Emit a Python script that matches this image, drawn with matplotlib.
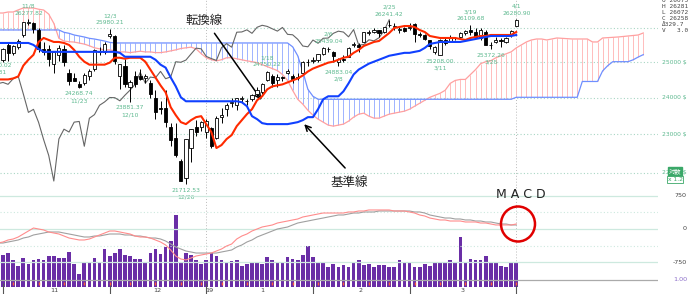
import numpy as np
import matplotlib.pyplot as plt
from matplotlib.patches import Ellipse

plt.rcParams['font.family'] = ['DejaVu Sans', 'Noto Sans CJK JP']

# day index: -1 = 2018/10/31, 0 = 11/1 ... 101 = 2019/4/1
opens = [25150, 25070, 25500, 25260, 25450, 25800, 26150, 26150, 25960, 25400,
         25400, 24950, 25200, 25400, 24700, 24550, 24380, 24400, 24600, 24800,
         25300, 25300, 25780, 25780, 24600, 24900, 24300, 24600, 24600, 24550,
         24400, 24000, 23700, 23700, 23200, 22900, 22300, 21860, 22630, 23200,
         23200, 23060, 23180, 22900, 23470, 23680, 23860, 23800, 23950, 23900,
         23950, 24100, 24150, 24500, 24600, 24500, 24580, 24700, 24600, 24560,
         24700, 25000, 25025, 25060, 25250, 25400, 25300, 25000, 25100, 25150,
         25500, 25500, 25600, 25850, 25900, 25950, 25900, 26100, 26050, 25950,
         26000, 26020, 26120, 25840, 25800, 25650, 25300, 25210, 25650, 25600,
         25700, 25750, 25850, 25950, 25900, 25700, 25900, 25500, 25600, 25650,
         25600, 25800, 26075]
highs = [25300, 25420, 25600, 25500, 25680, 26200, 26277.82, 26200, 26000, 25600,
         25500, 25300, 25500, 25500, 24800, 24700, 24450, 24700, 24800, 25400,
         25450, 25600, 25980.21, 25800, 24950, 25100, 24500, 24750, 24800, 24650,
         24500, 24200, 23900, 24200, 23300, 23300, 22350, 22880, 23140, 23380,
         23360, 23400, 23200, 23500, 23700, 23860, 24000, 24000, 24030, 23950,
         24100, 24300, 24400, 24750.22, 24650, 24650, 24600, 24800, 24650, 24700,
         25050, 25100, 25150, 25250, 25430, 25439.04, 25320, 25120, 25200, 25430,
         25600, 25550, 25900, 25950, 26000, 25960, 26050, 26241.42, 26150, 26050,
         26050, 26150, 26150, 25900, 25820, 25660, 25460, 25670, 25700, 25800,
         25750, 25900, 25950, 26109.68, 26000, 26000, 25950, 25600, 25750, 25700,
         25750, 25950, 26280.90]
lows = [25090.02, 25000, 25050, 25200, 25400, 25750, 26100, 25850, 25300, 25200,
        24900, 24700, 25050, 24900, 24350, 24450, 24268.74, 24350, 24500, 24750,
        25200, 25250, 25700, 24950, 24242, 24300, 23881.37, 24300, 24500, 24400,
        24000, 23400, 23550, 23200, 22700, 22400, 21790, 21712.53, 22270, 22950,
        23100, 22900, 22650, 22880, 23300, 23500, 23750, 23650, 23850, 23800,
        23900, 24050, 24100, 24450, 24300, 24300, 24450, 24650, 24400, 24500,
        24650, 24900, 24980, 25000, 25220, 25300, 25000, 24883.04, 25000, 25150,
        25450, 25300, 25600, 25800, 25850, 25750, 25850, 26050, 25950, 25850,
        25900, 25950, 25600, 25750, 25650, 25400, 25250, 25208.00, 25500, 25580,
        25650, 25700, 25800, 25800, 25700, 25650, 25500, 25372.26, 25550, 25450,
        25550, 25750, 26072]
closes = [25116, 25380, 25270, 25461, 25635, 26180, 26191, 25989, 25387, 25286,
          25080, 25289, 25413, 25017, 24465, 24464, 24285, 24640, 24748, 25366,
          25338, 25538, 25826, 25027, 24947, 24389, 24423, 24370, 24527, 24597,
          24100, 23592, 23675, 23323, 22859, 22445, 21792, 22878, 23138, 23062,
          23327, 23346, 22686, 23433, 23531, 23787, 23879, 24001, 23996, 23910,
          24065, 24207, 24370, 24706, 24404, 24575, 24553, 24737, 24528, 24579,
          25014, 24999, 25063, 25239, 25411, 25390, 25169, 25106, 25053, 25425,
          25543, 25439, 25883, 25891, 25954, 25850, 26031, 26091, 26057, 25985,
          25916, 26026, 25819, 25806, 25673, 25473, 25450, 25650, 25554, 25702,
          25709, 25849, 25914, 25887, 25745, 25962, 25502, 25516, 25657, 25626,
          25717, 25929, 26258]
volume = [4.44, 4.02, 4.27, 3.43, 2.68, 3.60, 2.93, 3.35, 3.51, 3.43,
          3.85, 3.85, 3.60, 3.60, 4.35, 2.93, 1.67, 3.09, 3.09, 3.60,
          3.09, 4.77, 3.85, 4.18, 4.69, 4.02, 3.85, 3.51, 3.51, 3.09,
          4.18, 4.69, 4.10, 4.94, 5.69, 8.79, 3.09, 4.27, 4.02, 3.43,
          2.93, 3.35, 4.27, 3.85, 3.43, 3.18, 3.26, 3.43, 2.68, 2.93,
          3.01, 3.09, 2.93, 3.77, 3.43, 3.18, 3.18, 3.77, 3.51, 3.35,
          4.02, 5.11, 3.77, 3.09, 3.18, 2.59, 2.93, 2.51, 2.76, 2.59,
          3.09, 3.43, 2.84, 2.93, 2.59, 2.76, 2.76, 2.59, 2.59, 3.43,
          3.01, 3.01, 2.59, 2.59, 2.93, 2.68, 3.18, 3.18, 3.18, 3.35,
          3.09, 6.11, 3.09, 3.51, 3.35, 3.43, 3.85, 3.09, 3.09, 2.68,
          2.51, 3.09, 3.01]
tenkan = [24508, 24508, 24508, 24536, 24592, 24903, 25073, 25216, 25593, 25711,
          25652, 25593, 25593, 25563, 25505, 25359, 25159, 25016, 24930, 24930,
          24930, 24930, 24988, 25130, 25130, 25102, 25130, 25130, 25130, 25016,
          24789, 24564, 24340, 24145, 23734, 23516, 23327, 23274, 23381, 23462,
          23489, 23274, 23061, 22639, 22717, 22875, 22981, 23220, 23381, 23543,
          23679, 23925, 24035, 24229, 24312, 24340, 24368, 24424, 24480, 24536,
          24620, 24733, 24817, 24874, 24930, 24988, 25016, 25073, 25130, 25159,
          25273, 25359, 25475, 25534, 25593, 25622, 25740, 25859, 26009, 26039,
          26069, 26069, 26039, 25949, 25889, 25770, 25740, 25711, 25711, 25711,
          25711, 25681, 25652, 25711, 25740, 25770, 25770, 25800, 25800, 25800,
          25800, 25800, 25889]
kijun = [25563, 25563, 25563, 25563, 25563, 25563, 25563, 25505, 25388, 25302,
         25302, 25302, 25302, 25302, 25302, 25302, 25302, 25302, 25302, 25302,
         25302, 25302, 25302, 25302, 25273, 25159, 25159, 25159, 25159, 25159,
         25159, 25073, 24930, 24845, 24564, 24312, 24007, 23897, 23897, 23897,
         23897, 23897, 23897, 23897, 23897, 23897, 23897, 23897, 23870, 23761,
         23489, 23408, 23300, 23274, 23274, 23274, 23274, 23274, 23300, 23327,
         23381, 23462, 23462, 23679, 23952, 24035, 24035, 24035, 24173, 24396,
         24648, 24789, 24874, 24959, 25016, 25073, 25130, 25188, 25216, 25245,
         25273, 25273, 25302, 25331, 25417, 25534, 25563, 25593, 25593, 25593,
         25593, 25593, 25622, 25652, 25681, 25711, 25740, 25770, 25770, 25770,
         25770, 25770, 25800]
# leading spans, as drawn (day -1 .. 126)
span_a = [26464, 26464, 26495, 26495, 26560, 26618, 26618, 26618, 26580, 26556,
          26430, 26150, 25700, 25620, 25600, 25590, 25560, 25530, 25480, 25420,
          25390, 25360, 25360, 25330, 25300, 25300, 25280, 25300, 25320, 25300,
          25300, 25280, 25280, 25300, 25330, 25360, 25400, 25420, 25440, 25390,
          25250, 25130, 25073, 25040, 25073, 25130, 25130, 25100, 25073, 25040,
          25016, 24988, 24930, 24874, 24817, 24760, 24648, 24480, 24200, 23952,
          23816, 23650, 23516, 23408, 23327, 23247, 23220, 23247, 23274, 23354,
          23462, 23543, 23570, 23489, 23435, 23435, 23489, 23543, 23570, 23598,
          23625, 23679, 23761, 23843, 23925, 24007, 24062, 24118, 24200, 24396,
          24480, 24508, 24508, 24648, 24789, 24959, 25016, 25044, 25130, 25188,
          25245, 25302, 25417, 25505, 25593, 25652, 25681, 25681, 25652, 25681,
          25711, 25700, 25690, 25681, 25681, 25681, 25681, 25593, 25593, 25711,
          25720, 25730, 25740, 25755, 25770, 25785, 25800, 25860]
span_b = [25950, 25950, 25950, 25950, 25950, 25950, 25950, 25950, 25950, 25950,
          25950, 25950, 25950, 25880, 25850, 25800, 25770, 25740, 25700, 25680,
          25650, 25620, 25580, 25563, 25563, 25563, 25563, 25563, 25563, 25563,
          25563, 25563, 25563, 25563, 25563, 25563, 25563, 25563, 25563, 25563,
          25563, 25563, 25563, 25563, 25563, 25563, 25563, 25563, 25563, 25563,
          25563, 25563, 25563, 25563, 25563, 25563, 25563, 25563, 25450, 25188,
          24733, 24229, 24035, 23952, 23952, 23952, 23952, 23952, 23952, 23952,
          23952, 23952, 23952, 23952, 23952, 23952, 23952, 23952, 23952, 23952,
          23952, 23952, 23952, 23952, 23952, 23952, 23952, 23952, 23952, 23952,
          23952, 23952, 23952, 23952, 23952, 23952, 23952, 23952, 23952, 23952,
          23952, 23952, 24007, 24007, 24007, 24007, 24007, 24007, 24007, 24007,
          24007, 24007, 24007, 24007, 24007, 24450, 24450, 24450, 24450, 24750,
          24900, 25016, 25016, 25016, 25016, 25070, 25150, 25220]
macd = [-314, -291, -246, -224, -179, -112, -45, 22, 0, -22,
        -67, -90, -112, -157, -202, -224, -246, -246, -224, -179,
        -134, -90, -45, -45, -67, -90, -112, -157, -179, -179,
        -202, -246, -291, -358, -470, -605, -672, -694, -650, -605,
        -582, -560, -538, -493, -448, -381, -336, -224, -157, -112,
        -45, 0, 45, 67, 90, 134, 157, 179, 202, 224,
        269, 291, 314, 336, 358, 358, 358, 358, 358, 381,
        381, 403, 403, 426, 426, 426, 426, 426, 403, 403,
        403, 381, 358, 314, 291, 246, 224, 202, 202, 179,
        179, 179, 157, 157, 157, 134, 134, 112, 90, 90,
        90, 90, 112]
signal = [-314, -314, -291, -269, -246, -202, -179, -134, -112, -90,
          -67, -67, -67, -90, -112, -134, -157, -179, -179, -157,
          -157, -134, -112, -112, -112, -134, -134, -157, -157, -179,
          -202, -202, -224, -269, -336, -403, -448, -493, -515, -538,
          -538, -538, -538, -538, -515, -493, -470, -403, -358, -291,
          -246, -179, -134, -90, -45, 0, 22, 45, 90, 134,
          157, 179, 202, 224, 246, 269, 291, 314, 314, 336,
          358, 358, 381, 381, 381, 403, 403, 403, 403, 403,
          403, 403, 381, 381, 358, 314, 291, 269, 246, 246,
          224, 224, 202, 202, 179, 179, 157, 157, 134, 112,
          112, 90, 90]

high_marks = [(5, '11/8', '26277.82'), (21, '12/3', '25980.21'), (52, '1/18', '24750.22'),
              (64, '2/6', '25439.04'), (76, '2/25', '26241.42'), (92, '3/19', '26109.68'),
              (101, '4/1', '26280.90')]
low_marks = [(-1, '10/31', '25090.02'), (15, '11/23', '24268.74'), (25, '12/10', '23881.37'),
             (36, '12/26', '21712.53'), (66, '2/8', '24883.04'), (86, '3/11', '25208.00'),
             (96, '3/25', '25372.26')]
month_starts = [0, 21, 40, 61, 80, 101]
month_labels = [(10.2, '11'), (30.3, '12'), (40.6, '19'), (51, '1'), (70.3, '2'), (90.4, '3')]
week_starts = [2, 7, 12, 16, 21, 25, 30, 35, 39, 43, 48, 53, 57, 62, 67, 72, 76, 81, 86, 91, 96, 101]
price_grid = [22000, 23000, 24000, 25000, 26000]
header = ['O 26075', 'H 26281', 'L 26072', 'C 26258', '\u0394329.7', 'V   3.0']

GREEN = '#5cb88e'
days = np.arange(-1, 102)
span_days = np.arange(-1, 127)
opens, highs, lows, closes = map(np.array, (opens, highs, lows, closes))
span_a, span_b = np.array(span_a), np.array(span_b)

fig = plt.figure(figsize=(6.89, 2.94), dpi=100)
ax = fig.add_axes([0, 1 - 188 / 294, 658 / 689, 188 / 294])
ax.set_yscale('log')
ax.set_xlim(-0.59, 128.9)
ax.set_ylim(21617, 26865)
ax.axis('off')

for v in price_grid:
    ax.axhline(v, color='#a9d6c4', lw=0.8, ls=(0, (1, 2)), zorder=0)
for d in (40, 101):
    ax.axvline(d, color='#bbbbbb', lw=0.7, ls=(0, (1, 2)), zorder=0)

# cloud
up = span_a >= span_b
ax.vlines(span_days[up], span_b[up], span_a[up], color='#ffbcbc', lw=0.7, zorder=1)
ax.vlines(span_days[~up], span_a[~up], span_b[~up], color='#9fb3ff', lw=0.7, zorder=1)
ax.plot(span_days, span_a, color='#ffa0a0', lw=0.9, zorder=2)
ax.plot(span_days, span_b, color='#6f8fff', lw=0.9, zorder=2)

# lagging span
ax.plot(days - 25, closes, color='#666666', lw=0.8, zorder=2)

# candles
ax.vlines(days, lows, highs, color='black', lw=0.7, zorder=3)
rise = closes >= opens
body_lo = np.minimum(opens, closes)
body_h = np.abs(closes - opens)
ax.bar(days[rise], body_h[rise], bottom=body_lo[rise], width=0.62,
       facecolor='white', edgecolor='black', lw=0.6, zorder=4)
ax.bar(days[~rise], body_h[~rise], bottom=body_lo[~rise], width=0.62,
       facecolor='black', edgecolor='black', lw=0.6, zorder=4)

ax.plot(days, tenkan, color='#ff2a00', lw=1.5, zorder=5)
ax.plot(days, kijun, color='#1040ff', lw=1.5, zorder=5)

for d, date, val in high_marks:
    ax.annotate(val, (d, float(val)), xytext=(0, 6), textcoords='offset pixels',
                ha='center', va='center', fontsize=4.3, color=GREEN, clip_on=True)
    ax.annotate(date, (d, float(val)), xytext=(0, 13), textcoords='offset pixels',
                ha='center', va='center', fontsize=4.3, color=GREEN, clip_on=True)
for d, date, val in low_marks:
    ax.annotate(val, (d, float(val)), xytext=(0, -6), textcoords='offset pixels',
                ha='center', va='center', fontsize=4.3, color=GREEN, annotation_clip=False)
    ax.annotate(date, (d, float(val)), xytext=(0, -13), textcoords='offset pixels',
                ha='center', va='center', fontsize=4.3, color=GREEN, annotation_clip=False)

for v in price_grid[:-1]:
    ax.text(1.006, v, f'{v} $', transform=ax.get_yaxis_transform(), ha='left',
            va='center', fontsize=4.3, color=GREEN, clip_on=False)

ax.annotate('', xy=(51.2, 23870), xytext=(41.3, 25919),
            arrowprops=dict(arrowstyle='->', color='black', lw=1.1))
ax.text(39.5, 26250, '転換線', ha='center', va='center', fontsize=8.9,
        family=['Noto Sans CJK JP'], color='#222222')
ax.annotate('', xy=(58.9, 23327), xytext=(67.7, 22071),
            arrowprops=dict(arrowstyle='->', color='black', lw=1.1))
ax.text(68.1, 21767, '基準線', ha='center', va='center', fontsize=9,
        family=['Noto Sans CJK JP'], color='#222222')

# lower panel: volume + MACD
axv = fig.add_axes([0, 1 - 287 / 294, 658 / 689, 101 / 294])
axv.set_xlim(-0.59, 128.9)
axv.set_ylim(0.16, 12.26)
axv.axis('off')
axv.bar(days, volume, width=0.72, color='#6a2ea6', zorder=2)
axv.axhline(1.0, color='#aaaaaa', lw=0.9, zorder=3)
axv.text(1.044, 1.0, '1.00', transform=axv.get_yaxis_transform(), ha='right',
         va='center', fontsize=4.6, color='#8a6cc8', clip_on=False)
for d in (40, 101):
    axv.axvline(d, color='#bbbbbb', lw=0.7, ls=(0, (1, 2)), zorder=1)
xt = axv.get_xaxis_transform()
axv.vlines(month_starts, -0.07, 0.04, transform=xt, color='#555555', lw=0.8, clip_on=False)
axv.vlines(week_starts, 0.02, 0.045, transform=xt, color='#ff5a3c', lw=1.0, clip_on=False)
for d, lab in month_labels:
    axv.text(d, -0.035, lab, transform=xt, ha='center', va='center', fontsize=4.6,
             color='#444444', clip_on=False)

axm = fig.add_axes([0, 1 - 287 / 294, 658 / 689, 101 / 294])
axm.patch.set_alpha(0)
axm.set_xlim(-0.59, 128.9)
axm.set_ylim(-1299, 963)
axm.axis('off')
for v in (750, 0, -750):
    axm.axhline(v, color='#cde9df', lw=0.9, zorder=0)
for v in (375, -375):
    axm.axhline(v, color='#cde9df', lw=0.8, ls=(0, (1, 2)), zorder=0)
axm.plot(days, signal, color='#a0a0a0', lw=0.8, zorder=3)
axm.plot(days, macd, color='#ff8c8c', lw=0.8, zorder=3)
for v, lab in ((750, '750'), (0, '0'), (-750, '-750')):
    axm.text(1.044, v, lab, transform=axm.get_yaxis_transform(), ha='right',
             va='center', fontsize=4.6, color='#444444', clip_on=False)

fig.text(521 / 689, 1 - 195 / 294, 'M A C D', ha='center', va='center',
         fontsize=9, color='#222222')
fig.add_artist(Ellipse((518 / 689, 1 - 224 / 294), 34 / 689, 35 / 294,
                       transform=fig.transFigure, fill=False, edgecolor='#e00000', lw=1.8))

for k, line in enumerate(header):
    fig.text(662 / 689, 1 - (1 + 6 * k) / 294, line, ha='left', va='center',
             fontsize=4.4, family='DejaVu Sans Mono', color='#444444')
fig.text(675 / 689, 1 - 171.5 / 294, '対数', ha='center', va='center', fontsize=4.5,
         color='white', family=['Noto Sans CJK JP'],
         bbox=dict(boxstyle='square,pad=0.15', fc='#3aa868', ec='#3aa868'))
fig.text(675 / 689, 1 - 179.5 / 294, 'x 1.2', ha='center', va='center', fontsize=4.3,
         color='#3aa868', bbox=dict(boxstyle='square,pad=0.15', fc='white', ec='#3aa868', lw=0.6))

fig.savefig('out.png', dpi=100)
